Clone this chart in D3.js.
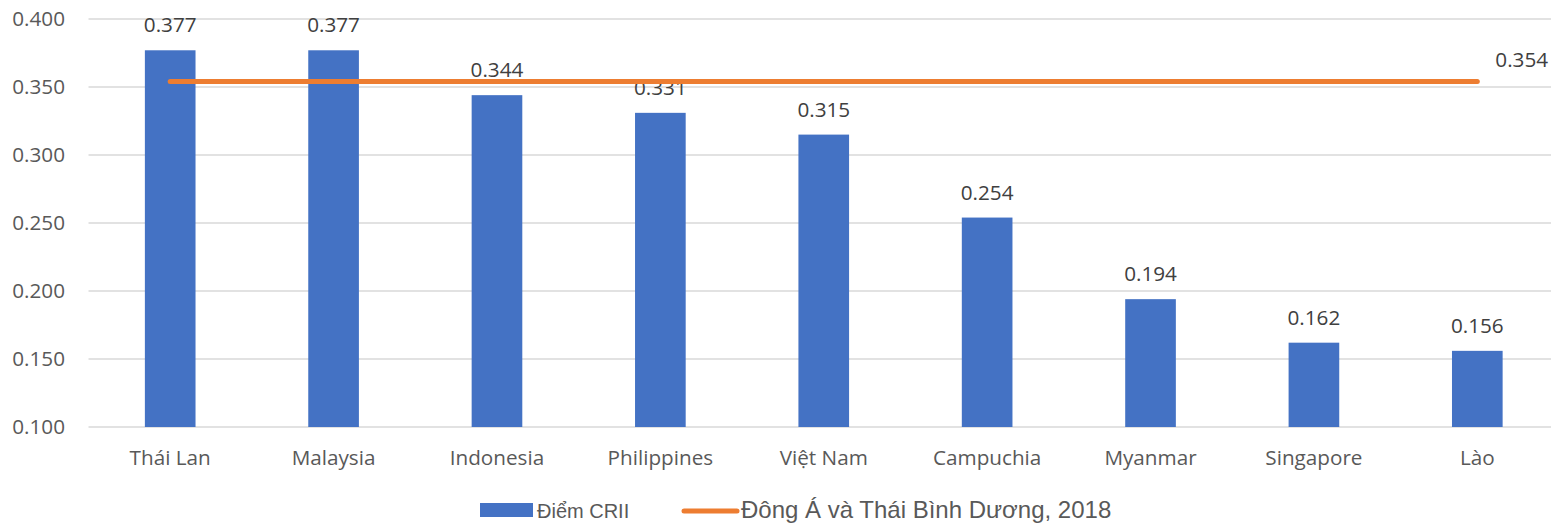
<!DOCTYPE html>
<html>
<head>
<meta charset="utf-8">
<script src="https://cdn.jsdelivr.net/npm/d3@7"></script>
<style>
  html, body { margin: 0; padding: 0; background: #ffffff; }
  svg { display: block; }
</style>
</head>
<body>
<svg id="chart" width="1551" height="523"></svg>
<script>
// Chỉ số CRII theo quốc gia và mức trung bình khu vực
const countries = ["Thái Lan", "Malaysia", "Indonesia", "Philippines", "Việt Nam", "Campuchia", "Myanmar", "Singapore", "Lào"];
const crii = [0.377, 0.377, 0.344, 0.331, 0.315, 0.254, 0.194, 0.162, 0.156];
const regionAvg = 0.354;
const yTicks = [0.100, 0.150, 0.200, 0.250, 0.300, 0.350, 0.400];
const seriesNames = ["Điểm CRII", "Đông Á và Thái Bình Dương, 2018"];

const svg = d3.select("#chart");
const plotLeft = 88.5, plotRight = 1559, plotTop = 19, plotBottom = 427;

const x = d3.scaleBand().domain(countries).range([plotLeft, plotRight]).paddingInner(0.69).paddingOuter(0.345);
const y = d3.scaleLinear().domain([0.1, 0.4]).range([plotBottom, plotTop]);
const fmt = d3.format(".3f");
const axisFont = "'Open Sans', sans-serif";
const fs = 20.7;

// Gridlines
svg.append("g").selectAll("line").data(yTicks).join("line")
  .attr("x1", plotLeft).attr("x2", plotRight)
  .attr("y1", d => y(d)).attr("y2", d => y(d))
  .attr("stroke", "#d9d9d9").attr("stroke-width", 1.5);

// Y tick labels
svg.append("g").selectAll("text").data(yTicks).join("text")
  .attr("x", 65).attr("y", d => y(d)).attr("dy", "0.36em")
  .attr("text-anchor", "end")
  .attr("font-family", axisFont).attr("font-size", fs).attr("fill", "#595959")
  .text(d => fmt(d));

// Bars
const data = countries.map((c, i) => ({ c, v: crii[i] }));
svg.append("g").selectAll("rect").data(data).join("rect")
  .attr("x", d => x(d.c)).attr("width", x.bandwidth())
  .attr("y", d => y(d.v)).attr("height", d => y(0.1) - y(d.v))
  .attr("fill", "#4472c4");

// Bar value labels
svg.append("g").selectAll("text").data(data).join("text")
  .attr("x", d => x(d.c) + x.bandwidth() / 2).attr("y", d => y(d.v) - 18)
  .attr("text-anchor", "middle")
  .attr("font-family", axisFont).attr("font-size", fs).attr("fill", "#404040")
  .text(d => fmt(d.v));

// Category labels
svg.append("g").selectAll("text").data(countries).join("text")
  .attr("x", d => x(d) + x.bandwidth() / 2).attr("y", plotBottom + 38)
  .attr("text-anchor", "middle")
  .attr("font-family", axisFont).attr("font-size", fs).attr("fill", "#595959")
  .text(d => d);

// Regional average line
const avgLine = d3.line().x(d => x(d) + x.bandwidth() / 2).y(() => y(regionAvg));
svg.append("path").datum(countries)
  .attr("d", avgLine)
  .attr("fill", "none").attr("stroke", "#ed7d31").attr("stroke-width", 5)
  .attr("stroke-linecap", "round");

const lastC = countries[countries.length - 1];
svg.append("text")
  .attr("x", x(lastC) + x.bandwidth() / 2 + 18).attr("y", y(regionAvg) - 15)
  .attr("text-anchor", "start")
  .attr("font-family", axisFont).attr("font-size", fs).attr("fill", "#404040")
  .text(fmt(regionAvg));

// Legend
const legend = svg.append("g");
legend.append("rect").attr("x", 480).attr("y", 503).attr("width", 53).attr("height", 14).attr("fill", "#4472c4");
legend.append("text").attr("x", 537).attr("y", 518)
  .attr("font-family", "'Liberation Sans', Arial, sans-serif").attr("font-size", 20).attr("fill", "#595959")
  .text(seriesNames[0]);
legend.append("line").attr("x1", 684).attr("x2", 737).attr("y1", 511).attr("y2", 511)
  .attr("stroke", "#ed7d31").attr("stroke-width", 5).attr("stroke-linecap", "round");
legend.append("text").attr("x", 741).attr("y", 518)
  .attr("font-family", "'Liberation Sans', Arial, sans-serif").attr("font-size", 24).attr("fill", "#595959")
  .text(seriesNames[1]);
</script>
</body>
</html>
